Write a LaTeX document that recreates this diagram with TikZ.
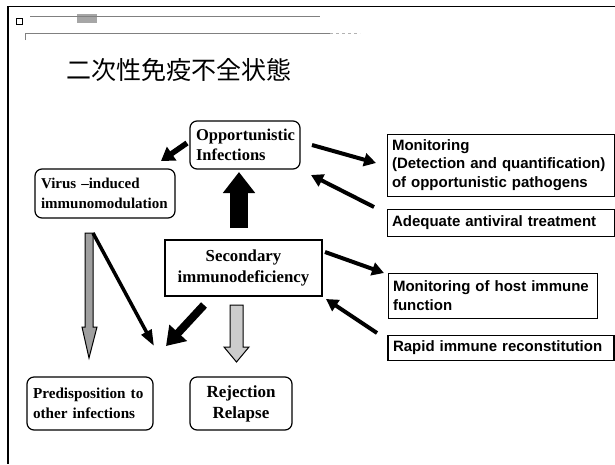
\documentclass[tikz,border=0pt]{standalone}
\usepackage{fontspec}
\usetikzlibrary{arrows.meta}
\newfontfamily\serifb{Liberation Serif}
\newfontfamily\sansb{Liberation Sans}
\newfontfamily\cjk{Noto Sans CJK JP}
\begin{document}
\begin{tikzpicture}[x=1pt,y=-1pt,
  rbox/.style={draw, line width=1.2pt, rounded corners=7pt, inner xsep=6pt, inner ysep=0pt, align=left,
    font=\serifb\bfseries\fontsize{16.5}{20}\selectfont},
  sbox/.style={draw, line width=0.8pt, inner xsep=5pt, inner ysep=0pt, align=left,
    font=\sansb\bfseries\fontsize{15}{18.5}\selectfont},
  thin arr/.style={line width=4pt, -{Triangle[length=12pt,width=13pt]}},
]
\useasboundingbox (0,0) rectangle (615,464);
\fill[white] (0,0) rectangle (615,464);
% frame and header remnants
\draw[line width=1pt] (8,6) -- (615,6);
\draw[line width=1.2pt] (8,6) -- (8,464);
\draw[line width=0.8pt] (16,18) rectangle (22,24);
\fill[gray!70] (77,14) rectangle (97,23);
\draw[gray, line width=0.6pt] (30,16) -- (320,16);
\draw[gray, line width=0.6pt] (25,40) -- (25,33) -- (330,33);
\draw[gray!60, dashed, line width=0.5pt] (330,33) -- (360,33);
% title
\node[font=\cjk\fontsize{25}{25}\selectfont, anchor=west] (title) at (63,70) {二次性免疫不全状態};
% nodes
\node[rbox, text width=98pt, minimum height=48pt] (opp) at (245,145) {Opportunistic\\Infections};
\node[rbox, text width=128pt, minimum height=49pt, font=\serifb\bfseries\fontsize{15}{20}\selectfont] (virus) at (105,193.5) {Virus –induced\\immunomodulation};
\node[draw, line width=2pt, inner sep=0pt, minimum width=157pt, minimum height=56pt, align=center,
  font=\serifb\bfseries\fontsize{16.8}{21}\selectfont] (sec) at (243.5,268) {Secondary\\immunodeficiency};
\node[rbox, text width=114pt, minimum height=53pt, font=\serifb\bfseries\fontsize{15.2}{20}\selectfont] (pred) at (90,403.5) {Predisposition to\\other infections};
\node[rbox, text width=90pt, minimum height=53pt, align=center, font=\serifb\bfseries\fontsize{17}{21}\selectfont] (rej) at (241,403.5) {Rejection\\Relapse};
\node[sbox, text width=217pt, minimum height=62pt] (mon) at (500.5,165) {Monitoring\\(Detection and quantification)\\of opportunistic pathogens};
\node[sbox, text width=217pt, minimum height=27pt] (adq) at (500.5,222.5) {Adequate antiviral treatment};
\node[sbox, text width=199pt, minimum height=45pt] (host) at (492.5,295.5) {Monitoring of host immune\\function};
\node[sbox, line width=1.4pt, text width=216pt, minimum height=25pt] (rap) at (501,348) {Rapid immune reconstitution};
% coordinates
\coordinate (o1) at (187,143);  \coordinate (o1e) at (161,161);
\coordinate (u1) at (239,228);  \coordinate (u1e) at (239,172);
\coordinate (m1) at (312,145);  \coordinate (m1e) at (376,163);
\coordinate (a1) at (374,207);  \coordinate (a1e) at (311,175);
\coordinate (h1) at (325,252);  \coordinate (h1e) at (384,273);
\coordinate (r1) at (377,333);  \coordinate (r1e) at (326,299);
\coordinate (s1) at (204,305);  \coordinate (s1e) at (166,346);
\coordinate (v1) at (93,233);   \coordinate (v1e) at (154,346);
% arrows
\draw[line width=5.5pt, -{Triangle[length=13pt,width=16pt]}] (o1) -- (o1e);
\draw[line width=18pt, -{Triangle[length=21pt,width=31pt]}] (u1) -- (u1e);
\draw[thin arr] (m1) -- (m1e);
\draw[thin arr] (a1) -- (a1e);
\draw[thin arr] (h1) -- (h1e);
\draw[thin arr] (r1) -- (r1e);
\draw[line width=8pt, -{Triangle[length=18pt,width=23pt]}] (s1) -- (s1e);
% grey down arrow from secondary
\draw[line width=1pt, fill=gray!40] (230,305) -- (243,305) -- (243,347) -- (249,347) -- (236.5,362) -- (224,347) -- (230,347) -- cycle;
% virus vertical grey arrow
\draw[line width=1pt, fill=gray!75] (85,233) -- (93,233) -- (93,327) -- (97,327) -- (89,358) -- (82,327) -- (85,327) -- cycle;
% diagonal from virus
\draw[line width=3.5pt, -{Triangle[length=16pt,width=11pt]}] (v1) -- (v1e);
\end{tikzpicture}
\end{document}
